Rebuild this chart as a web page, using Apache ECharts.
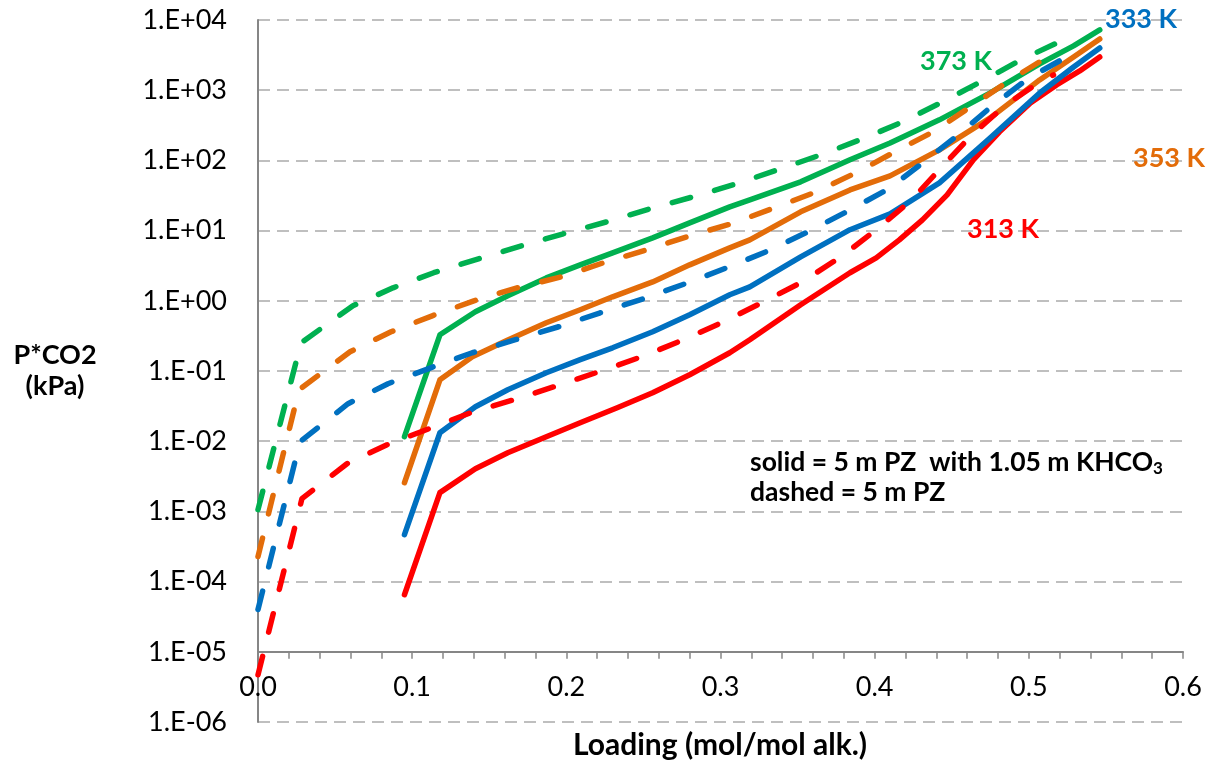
<!DOCTYPE html>
<html>
<head>
<meta charset="utf-8">
<script src="https://cdn.jsdelivr.net/npm/echarts@6/dist/echarts.min.js"></script>
<style>
html,body{margin:0;padding:0;background:#fff;}
#main{width:1214px;height:767px;}
</style>
</head>
<body>
<div id="main"></div>
<script>
// ---- Data (loading in mol/mol alk., P*CO2 in kPa) ----
// solid = 5 m PZ with 1.05 m KHCO3
const loadSolid313 = [0.095,0.118,0.141,0.162,0.187,0.209,0.233,0.256,0.280,0.306,0.319,0.352,0.384,0.401,0.416,0.431,0.447,0.464,0.481,0.501,0.518,0.533,0.546];
const pSolid313    = [6.5e-5,1.85e-3,4.06e-3,6.86e-3,0.0116,0.0183,0.030,0.049,0.0885,0.182,0.279,0.877,2.51,4.09,7.38,14.2,32.3,102,255,659,1190,1880,2970];
const loadSolid333 = [0.095,0.118,0.141,0.162,0.187,0.209,0.230,0.256,0.280,0.306,0.319,0.352,0.384,0.410,0.442,0.475,0.507,0.529,0.546];
const pSolid333    = [4.67e-4,0.0132,0.031,0.054,0.0944,0.145,0.214,0.362,0.632,1.22,1.58,4.23,10.3,17.3,47.9,209,914,2140,3990];
const loadSolid353 = [0.095,0.118,0.139,0.161,0.187,0.209,0.230,0.256,0.280,0.306,0.319,0.352,0.384,0.410,0.442,0.475,0.507,0.529,0.546];
const pSolid353    = [2.56e-3,0.075,0.160,0.270,0.487,0.745,1.14,1.86,3.25,5.68,7.38,18.5,38.0,60.2,141,403,1400,2970,5370];
const loadSolid373 = [0.095,0.118,0.141,0.162,0.187,0.209,0.230,0.256,0.280,0.306,0.319,0.352,0.384,0.410,0.442,0.475,0.507,0.529,0.546];
const pSolid373    = [0.0116,0.328,0.697,1.18,2.12,3.25,4.82,7.88,12.9,21.8,27.4,49.5,102,177,378,914,2370,4270,7210];
// dashed = 5 m PZ
const loadDash313 = [0,0.0285,0.0577,0.0837,0.111,0.138,0.166,0.194,0.221,0.249,0.276,0.302,0.328,0.353,0.379,0.401,0.424,0.443,0.463,0.485,0.509,0.516];
const pDash313    = [4.7e-6,1.52e-3,4.78e-3,8.9e-3,0.0151,0.0255,0.039,0.0617,0.0975,0.160,0.279,0.502,0.968,1.86,4.37,10.3,27.4,78.2,231,617,1400,1650];
const loadDash333 = [0,0.0272,0.0584,0.0843,0.112,0.139,0.167,0.195,0.222,0.250,0.277,0.304,0.331,0.358,0.384,0.409,0.432,0.455,0.477,0.500,0.529];
const pDash333    = [4.0e-5,9.8e-3,0.0342,0.0659,0.111,0.182,0.279,0.427,0.675,1.07,1.75,2.95,5.15,9.91,19.7,39.3,95.2,239,617,1490,3390];
const loadDash353 = [0,0.0266,0.0597,0.0863,0.113,0.140,0.168,0.197,0.224,0.252,0.280,0.307,0.335,0.362,0.389,0.414,0.439,0.463,0.487,0.512,0.519];
const pDash353    = [2.27e-4,0.054,0.188,0.362,0.611,1.0,1.53,2.20,3.48,5.32,8.42,12.5,21.1,35.6,68.6,136,263,597,1360,2970,3500];
const loadDash373 = [0,0.0279,0.0616,0.0876,0.114,0.143,0.171,0.198,0.226,0.254,0.282,0.310,0.337,0.365,0.392,0.418,0.444,0.470,0.496,0.528];
const pDash373    = [1.06e-3,0.252,0.849,1.53,2.51,3.96,6.07,9.0,13.3,20.4,30.2,46.2,73.3,120,202,353,681,1360,2790,5920];

const tempLabels = ['313 K','333 K','353 K','373 K'];

// ---- Styling ----
const COLORS = {'313 K':'#FF0000','333 K':'#0070C0','353 K':'#E36C09','373 K':'#00B050'};
const FONT = 'Lato, "Liberation Sans", sans-serif';

function pairs(xs, ys){ return xs.map((x,i)=>[x, ys[i]]); }
function lineSeries(name, xs, ys, dashed){
  return {
    name: name, type:'line', showSymbol:false, symbol:'none', animation:false,
    data: pairs(xs, ys),
    lineStyle:{ color: COLORS[name], width:5.5, type: dashed ? [19,25] : 'solid', cap:'round', join:'round' },
    z: dashed ? 3 : 2
  };
}

const chart = echarts.init(document.getElementById('main'), null, {renderer:'canvas'});
const gridTop = 20, gridBottom = 45;
const gridH = 767 - gridTop - gridBottom;

const option = {
  backgroundColor:'#ffffff',
  animation:false,
  grid:{ left:258, right:31, top:gridTop, bottom:gridBottom, containLabel:false },
  xAxis:{
    type:'value', min:0, max:0.6, interval:0.1,
    offset: -gridH/10,
    axisLine:{ show:true, lineStyle:{ color:'#868686', width:2 } },
    axisTick:{ show:true, length:7, lineStyle:{ color:'#868686', width:1.5 } },
    minorTick:{ show:true, splitNumber:5, length:7, lineStyle:{ color:'#868686', width:1.5 } },
    splitLine:{ show:false },
    axisLabel:{ fontFamily:FONT, fontSize:27, color:'#000', margin:22, formatter:(v)=>v.toFixed(1) }
  },
  yAxis:{
    type:'log', logBase:10, min:1e-6, max:1e4, interval:1, splitNumber:10,
    axisLine:{ show:true, lineStyle:{ color:'#868686', width:2 } },
    axisTick:{ show:false },
    splitLine:{ show:true, lineStyle:{ color:'#BFBFBF', width:2, type:[12,7] } },
    axisLabel:{ fontFamily:FONT, fontSize:27, color:'#000', margin:31,
      formatter:(v)=>{ const e = Math.round(Math.log10(v)); const s = e<0?'-':'+'; const a = Math.abs(e); return '1.E' + s + (a<10?'0':'') + a; } }
  },
  series:[
    lineSeries('313 K', loadSolid313, pSolid313, false),
    lineSeries('333 K', loadSolid333, pSolid333, false),
    lineSeries('353 K', loadSolid353, pSolid353, false),
    lineSeries('373 K', loadSolid373, pSolid373, false),
    lineSeries('313 K', loadDash313, pDash313, true),
    lineSeries('333 K', loadDash333, pDash333, true),
    lineSeries('353 K', loadDash353, pDash353, true),
    lineSeries('373 K', loadDash373, pDash373, true)
  ],
  graphic:[
    { type:'text', x:55, y:371, z:10, style:{ text:'P*CO2\n(kPa)', font:'bold 27px '+FONT, fill:'#000', align:'center', verticalAlign:'middle', lineHeight:31 } },
    { type:'text', x:720, y:745, z:10, style:{ text:'Loading (mol/mol alk.)', font:'bold 30px '+FONT, fill:'#000', align:'center', verticalAlign:'middle' } },
    { type:'text', x:1105, y:19, z:10, style:{ text:tempLabels[1], font:'bold 27px '+FONT, fill:COLORS['333 K'], align:'left', verticalAlign:'middle' } },
    { type:'text', x:920, y:61, z:10, style:{ text:tempLabels[3], font:'bold 27px '+FONT, fill:COLORS['373 K'], align:'left', verticalAlign:'middle' } },
    { type:'text', x:1133, y:158, z:10, style:{ text:tempLabels[2], font:'bold 27px '+FONT, fill:COLORS['353 K'], align:'left', verticalAlign:'middle' } },
    { type:'text', x:967, y:229, z:10, style:{ text:tempLabels[0], font:'bold 27px '+FONT, fill:COLORS['313 K'], align:'left', verticalAlign:'middle' } },
    { type:'text', x:750, y:447, z:10, style:{
        text:'solid = 5 m PZ  with 1.05 m KHCO{sub|3}\ndashed = 5 m PZ',
        font:'bold 26.5px '+FONT, fill:'#000', align:'left', verticalAlign:'top', lineHeight:30,
        rich:{ sub:{ fontFamily:FONT, fontWeight:'bold', fontSize:17, lineHeight:12, verticalAlign:'bottom', fill:'#000' } } } }
  ]
};
chart.setOption(option);
</script>
</body>
</html>
